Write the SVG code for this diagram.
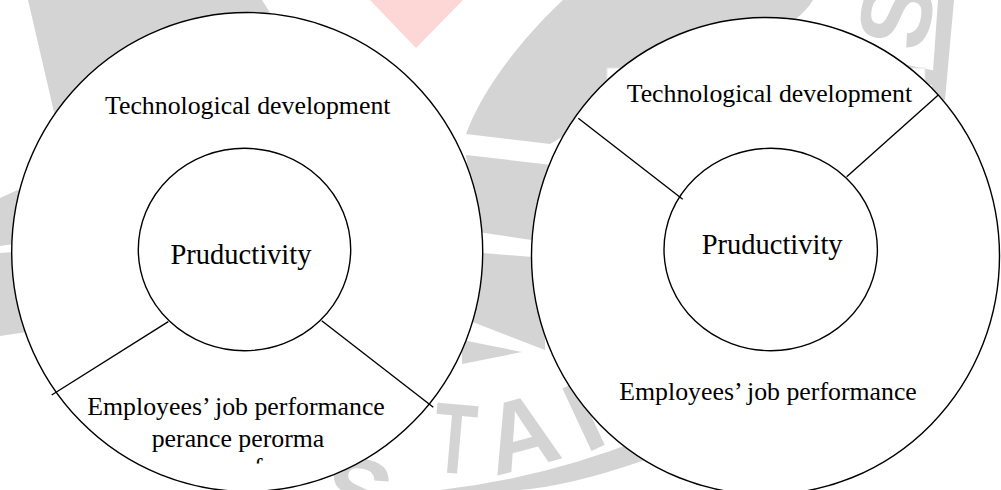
<svg xmlns="http://www.w3.org/2000/svg" width="1001" height="490" viewBox="0 0 1001 490">
  <defs>
    <style>
      .wm { fill: #d4d4d4; stroke: none; }
      .wm-letter { fill: #d4d4d4; font-family: "Liberation Sans", Arial, sans-serif; font-weight: bold; font-size: 100px; text-anchor: middle; }
      .ring { fill: #ffffff; stroke: #000000; stroke-width: 1.4; }
      .label { fill: #000000; font-family: "Liberation Serif", "Times New Roman", serif; font-size: 25.8px; }
      .core { fill: #000000; font-family: "Liberation Serif", "Times New Roman", serif; font-size: 28.5px; }
      .divider { stroke: #000000; stroke-width: 1.4; fill: none; }
    </style>
    <clipPath id="lower-box">
      <rect x="0" y="0" width="500" height="463.5"/>
    </clipPath>
  </defs>

  <rect x="0" y="0" width="1001" height="490" fill="#ffffff"/>

  <!-- faint background emblem -->
  <g id="watermark">
    <path class="wm" d="M28,0 L262,0 L300,60 L200,140 L57,125 Z"/>
    <polygon points="370,0 463,0 416,48" fill="#fdd6d6"/>
    <polygon class="wm" points="0,198 22,188 40,240 0,246"/>
    <polygon class="wm" points="0,253 40,250 40,330 0,336"/>
    <path class="wm" d="M466,134 C480,95 515,45 563,0 L813,0 C790,40 700,60 640,90 L550,144 Z"/>
    <polygon class="wm" points="466,155 552,165 545,242 478,232"/>
    <polygon class="wm" points="470,252 545,258 545,350 470,321"/>
    <polygon class="wm" points="462,340 522,352 462,364"/>
    <path class="wm" d="M440,490 Q545,478 645,438 L645,460 Q570,486 520,490 Z"/>
    <path class="wm" d="M938,0 L954,0 L945,100 L931,100 Z"/>
    <text class="wm-letter" x="0" y="36" transform="translate(358,492) rotate(12)">S</text>
    <text class="wm-letter" x="0" y="0" transform="translate(452,473) rotate(5) scale(0.7,1)">T</text>
    <text class="wm-letter" x="0" y="0" transform="translate(530,467) rotate(-15)">A</text>
    <text class="wm-letter" x="0" y="0" transform="translate(598,448) rotate(-25)">I</text>
    <text class="wm-letter" x="0" y="36" transform="translate(895,14) rotate(-78)">S</text>
    <text class="wm-letter" x="0" y="36" transform="translate(905,72) rotate(-78)">I</text>
  </g>

  <!-- text frame behind the upper label of the right diagram -->
  <rect x="607" y="68" width="318" height="45" fill="#ffffff" stroke="#e6e6e6" stroke-width="1"/>

  <!-- left diagram -->
  <g id="left-outer">
    <ellipse class="ring" cx="247.2" cy="252" rx="235.5" ry="239.5"/>
    <text class="label" x="105" y="114.3">Technological development</text>
    <text class="label" x="87.3" y="415">Employees’ job performance</text>
    <text class="label" x="151.7" y="446.7">perance perorma</text>
    <text class="label" x="254" y="476" clip-path="url(#lower-box)">f</text>
  </g>
  <g id="left-inner">
    <ellipse class="ring" cx="244.5" cy="249.5" rx="106.2" ry="101.2"/>
    <text class="core" x="170.5" y="263.5">Pruductivity</text>
  </g>

  <!-- right diagram -->
  <g id="right-outer">
    <ellipse class="ring" cx="765.5" cy="256" rx="234" ry="238.5"/>
    <text class="label" x="626.7" y="101.5">Technological development</text>
    <text class="label" x="619.3" y="400">Employees’ job performance</text>
  </g>
  <g id="right-inner">
    <ellipse class="ring" cx="770.7" cy="249.5" rx="106.7" ry="101.2"/>
    <text class="core" x="701.7" y="254">Pruductivity</text>
  </g>

  <!-- sector dividers -->
  <g id="connectors">
    <line class="divider" x1="51.7" y1="395" x2="168.3" y2="321.7"/>
    <line class="divider" x1="321.7" y1="320.7" x2="433.3" y2="407.3"/>
    <line class="divider" x1="578.3" y1="118.3" x2="682.7" y2="199.3"/>
    <line class="divider" x1="938.3" y1="95" x2="846.7" y2="176.7"/>
  </g>
</svg>
